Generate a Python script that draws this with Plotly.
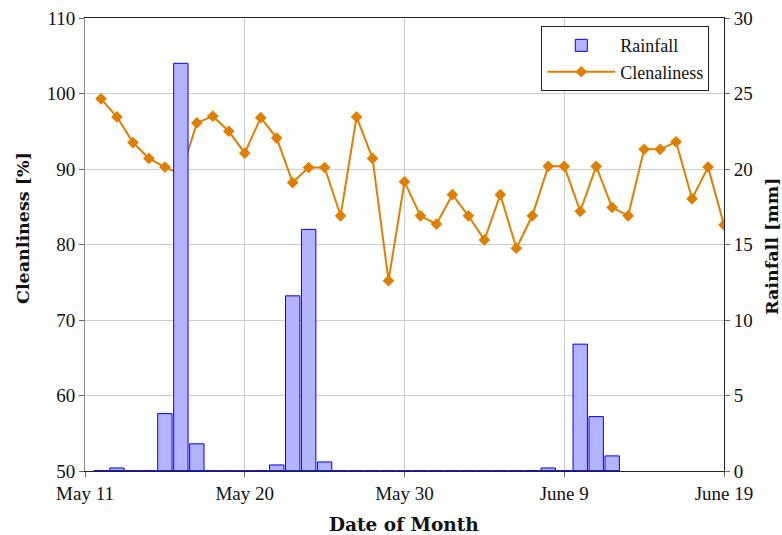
import plotly.graph_objects as go

# Day index along the x axis (0 = May 11) and the labelled ticks
tick_vals = [0, 10, 20, 30, 40]
tick_text = ["May 11", "May 20", "May 30", "June 9", "June 19"]

# Daily cleanliness [%], days 1..40
clean_days = list(range(1, 41))
cleanliness = [
    99.3, 96.9, 93.5, 91.4, 90.25, 89.3, 96.1, 97.0, 95.0, 92.1,
    96.8, 94.1, 88.2, 90.2, 90.2, 83.8, 96.9, 91.4, 75.2, 88.3,
    83.8, 82.7, 86.6, 83.8, 80.6, 86.6, 79.5, 83.8, 90.35, 90.35,
    84.4, 90.35, 84.9, 83.8, 92.6, 92.6, 93.6, 86.05, 90.25, 82.6,
]

# Daily rainfall [mm], days 1..33
rain_days = list(range(1, 34))
rainfall = [
    0, 0.2, 0, 0, 3.8, 27.0, 1.8, 0, 0, 0,
    0, 0.4, 11.6, 16.0, 0.6, 0, 0, 0, 0, 0,
    0, 0, 0, 0, 0, 0, 0, 0, 0.2, 0,
    8.4, 3.6, 1.0,
]

FONT = "Liberation Serif"
TITLE_FONT = "DejaVu Serif"
ORANGE = "#df7f00"
BAR_W = 0.9

fig = go.Figure()

fig.add_trace(go.Bar(
    x=rain_days, y=rainfall, name="Rainfall",
    width=BAR_W,
    marker=dict(color="#b3b3ff", line=dict(color="#0000ff", width=1)),
    yaxis="y2",
))

fig.add_trace(go.Scatter(
    x=clean_days, y=cleanliness, name="Clenaliness",
    mode="lines+markers",
    line=dict(color=ORANGE, width=2),
    marker=dict(symbol="diamond", size=9, color=ORANGE),
    yaxis="y",
))

# blue base of the bar series (zero-height bars)
fig.add_trace(go.Scatter(
    x=[rain_days[0] - BAR_W / 2, rain_days[-1] + BAR_W / 2], y=[0, 0],
    mode="lines", line=dict(color="#0000ff", width=1.5),
    showlegend=False, hoverinfo="skip", yaxis="y2",
))

tick_font = dict(family=FONT, size=19, color="#111")
side_title_font = dict(family=TITLE_FONT, size=17.5, color="#111", weight="bold")
bottom_title_font = dict(family=TITLE_FONT, size=18.5, color="#111", weight="bold")

fig.update_layout(
    width=782, height=535,
    margin=dict(l=85, r=58, t=18, b=64, autoexpand=False),
    plot_bgcolor="white", paper_bgcolor="white",
    showlegend=True,
    legend=dict(
        x=0.977, y=0.982, xanchor="right", yanchor="top",
        bordercolor="#222", borderwidth=1, bgcolor="white",
        font=dict(family=FONT, size=18, color="#111"),
        traceorder="normal", tracegroupgap=0, itemwidth=68,
    ),
    xaxis=dict(
        range=[0, 40], tickvals=tick_vals, ticktext=tick_text,
        showgrid=True, gridcolor="#cccccc", gridwidth=1,
        showline=True, linecolor="#222", linewidth=1, mirror=True,
        zeroline=False, automargin=False,
        ticks="outside", ticklen=5, tickcolor="#666", tickfont=tick_font,
    ),
    yaxis=dict(
        range=[50, 110], tickvals=list(range(50, 111, 10)),
        showgrid=True, gridcolor="#cccccc", gridwidth=1, zeroline=False,
        showline=True, linecolor="#888", linewidth=1, automargin=False,
        ticks="outside", ticklen=5, tickcolor="#666", tickfont=tick_font,
    ),
    yaxis2=dict(
        range=[0, 30], tickvals=list(range(0, 31, 5)),
        overlaying="y", side="right", showgrid=False, zeroline=False,
        showline=True, linecolor="#222", linewidth=1, automargin=False,
        ticks="outside", ticklen=5, tickcolor="#666", tickfont=tick_font,
    ),
    annotations=[
        dict(text="Date of Month", x=404, y=524,
             showarrow=False, font=bottom_title_font),
        dict(text="Cleanliness [%]", x=23, y=228, textangle=-90,
             showarrow=False, font=side_title_font),
        dict(text="Rainfall [mm]", x=772, y=246, textangle=-90,
             showarrow=False, font=side_title_font),
    ],
)

# place the axis titles in pixel coordinates of the page
W, H = 782, 535
ml, mr, mt, mb = 85, 58, 18, 64
pw, ph = W - ml - mr, H - mt - mb
for ann in fig.layout.annotations:
    ann.xref = "paper"
    ann.yref = "paper"
    ann.x = (ann.x - ml) / pw
    ann.y = (H - mb - ann.y) / ph
    ann.xanchor = "center"
    ann.yanchor = "middle"

fig.write_html("out.html")
